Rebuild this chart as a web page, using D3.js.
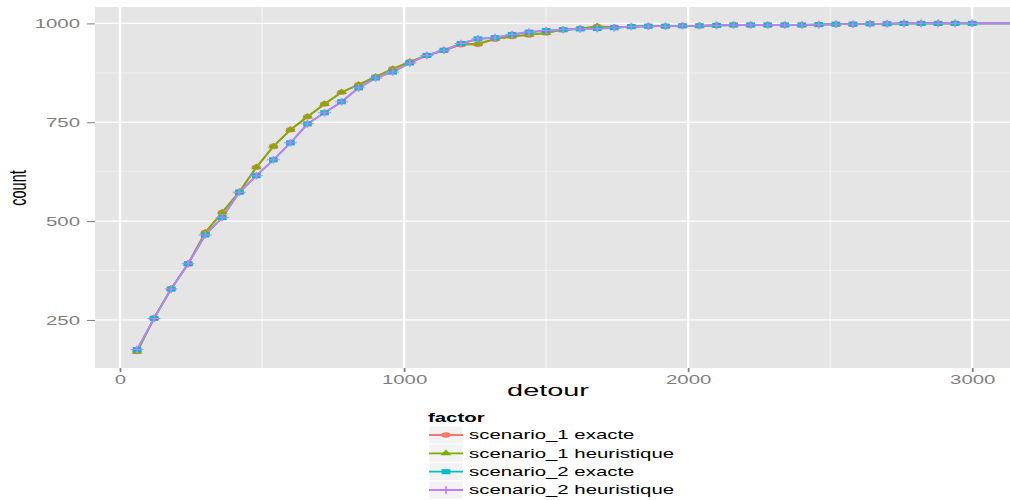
<!DOCTYPE html>
<html>
<head>
<meta charset="utf-8">
<script src="https://cdn.jsdelivr.net/npm/d3@7"></script>
<style>
  html, body { margin: 0; padding: 0; background: #fff; }
  svg { display: block; font-family: "Liberation Sans", Arial, sans-serif; }
</style>
</head>
<body>
<svg id="chart" width="1010" height="500"></svg>
<script>
// ---- data ----
const detour = [60,120,180,240,300,360,420,480,540,600,660,720,780,840,900,960,1020,1080,1140,1200,
  1260,1320,1380,1440,1500,1560,1620,1680,1740,1800,1860,1920,1980,2040,2100,2160,2220,2280,2340,2400,
  2460,2520,2580,2640,2700,2760,2820,2880,2940,3000,3180];

const s1Exacte = [170,255,329,392,471,522,574,636,689,731,764,796,826,845,865,885,903,919,932,946,
  947,960,967,971,976,984,987,992,990,992,993,993,994,994,995,996,996,996,996,996,
  997,998,998,999,999,1000,1000,1000,1000,1000,1000];
const s1Heuristique = [169,255,329,392,471,522,574,636,689,731,764,796,826,845,865,885,903,919,932,947,
  949,961,967,971,976,984,987,993,990,992,993,993,994,994,995,996,996,996,996,996,
  997,998,998,999,999,1000,1000,1000,1000,1000,1000];
const s2Exacte = [175,254,328,392,465,509,573,615,655,698,746,774,802,837,862,877,900,919,932,949,
  961,964,972,978,982,984,986,987,989,992,993,993,994,994,995,996,996,996,996,996,
  997,998,998,999,999,1000,1000,1000,1000,1000,1000];
const s2Heuristique = [175,254,328,392,465,509,573,615,655,698,746,774,802,837,862,877,900,919,932,949,
  961,964,972,978,982,984,986,987,989,992,993,993,994,994,995,996,996,996,996,996,
  997,998,998,999,999,1000,1000,1000,1000,1000,1000];

const seriesNames = ["scenario_1 exacte","scenario_1 heuristique","scenario_2 exacte","scenario_2 heuristique"];
const seriesColors = ["#F8766D","#7CAE00","#00BFC4","#C77CFF"];
const seriesShapes = ["circle","triangle","square","plus"];
const seriesValues = [s1Exacte, s1Heuristique, s2Exacte, s2Heuristique];

const xMajor = [0,1000,2000,3000];
const xMinor = [500,1500,2500];
const yMajor = [250,500,750,1000];
const yMinor = [375,625,875];

// ---- layout ----
const SX = 1.7; // horizontal stretch of the original raster
const panel = {left: 95, right: 1014, top: 7, bottom: 368};
const svg = d3.select("#chart");

const x = d3.scaleLinear().domain([-88, 3147]).range([panel.left, panel.right]);
const y = d3.scaleLinear().domain([128.5, 1041.5]).range([panel.bottom, panel.top]);

svg.append("defs").append("clipPath").attr("id","clip")
  .append("rect").attr("x",panel.left).attr("y",panel.top)
  .attr("width",panel.right-panel.left).attr("height",panel.bottom-panel.top);

svg.append("rect").attr("x",panel.left).attr("y",panel.top)
  .attr("width",panel.right-panel.left).attr("height",panel.bottom-panel.top)
  .attr("fill","#E5E5E5");

const grid = svg.append("g");
grid.selectAll(".ymin").data(yMinor).join("line")
  .attr("x1",panel.left).attr("x2",panel.right)
  .attr("y1",d=>y(d)).attr("y2",d=>y(d))
  .attr("stroke","#F2F2F2").attr("stroke-width",0.7);
grid.selectAll(".xmin").data(xMinor).join("line")
  .attr("y1",panel.top).attr("y2",panel.bottom)
  .attr("x1",d=>x(d)).attr("x2",d=>x(d))
  .attr("stroke","#F2F2F2").attr("stroke-width",1.3);
grid.selectAll(".ymaj").data(yMajor).join("line")
  .attr("x1",panel.left).attr("x2",panel.right)
  .attr("y1",d=>y(d)).attr("y2",d=>y(d))
  .attr("stroke","#FFFFFF").attr("stroke-width",1.3);
grid.selectAll(".xmaj").data(xMajor).join("line")
  .attr("y1",panel.top).attr("y2",panel.bottom)
  .attr("x1",d=>x(d)).attr("x2",d=>x(d))
  .attr("stroke","#FFFFFF").attr("stroke-width",2.4);

// axes
const fmt = d3.format("d");
const yAxis = svg.append("g").attr("transform",`translate(${panel.left},0)`)
  .call(d3.axisLeft(y).tickValues(yMajor).tickFormat(fmt).tickSizeInner(8).tickSizeOuter(0));
yAxis.select(".domain").remove();
yAxis.selectAll(".tick line").attr("stroke","#7F7F7F").attr("stroke-width",1);
yAxis.selectAll(".tick text")
  .attr("x",0).attr("dy",null).attr("y",4.3)
  .attr("transform",`translate(-15,0) scale(${SX},1)`)
  .attr("fill","#7F7F7F").attr("font-size",12);

const xAxis = svg.append("g").attr("transform",`translate(0,${panel.bottom})`)
  .call(d3.axisBottom(x).tickValues(xMajor).tickFormat(fmt).tickSizeInner(4).tickSizeOuter(0));
xAxis.select(".domain").remove();
xAxis.selectAll(".tick line").attr("stroke","#7F7F7F").attr("stroke-width",1.8);
xAxis.selectAll(".tick text")
  .attr("y",0).attr("dy",null)
  .attr("transform",`translate(0,15.5) scale(${SX},1)`)
  .attr("fill","#7F7F7F").attr("font-size",12);
svg.selectAll(".tick text").attr("font-family", "Liberation Sans, Arial, sans-serif");

// axis titles
svg.append("text").attr("transform",`translate(548,396) scale(${SX},1)`)
  .attr("text-anchor","middle").attr("font-size",17).attr("fill","#000").text("detour");
svg.append("text").attr("transform",`translate(25.5,188) scale(${SX},1) rotate(-90)`)
  .attr("text-anchor","middle").attr("font-size",14.5).attr("fill","#000").text("count");

// markers
function markerPath(shape) {
  if (shape === "circle") return d3.symbol(d3.symbolCircle, 24)();
  if (shape === "triangle") return d3.symbol(d3.symbolTriangle, 18)();
  if (shape === "square") return d3.symbol(d3.symbolSquare, 26)();
  return "M-3.8,0H3.8M0,-3.8V3.8";
}
function drawMarker(sel, shape, color) {
  sel.append("path").attr("d", markerPath(shape))
    .attr("fill", shape === "plus" ? "none" : color)
    .attr("stroke", shape === "plus" ? color : "none")
    .attr("stroke-width", shape === "plus" ? 1 : 0);
}

const plotArea = svg.append("g").attr("clip-path","url(#clip)");
const line = d3.line().x(d=>x(d[0])).y(d=>y(d[1]));
seriesValues.forEach((vals,i) => {
  const pts = detour.map((d,j)=>[d, vals[j]]);
  plotArea.append("path").datum(pts).attr("d",line)
    .attr("fill","none").attr("stroke",seriesColors[i]).attr("stroke-width",1.8);
});
seriesValues.forEach((vals,i) => {
  const pts = detour.map((d,j)=>[d, vals[j]]);
  plotArea.selectAll(null).data(pts).join("g")
    .attr("transform",d=>`translate(${x(d[0])},${y(d[1])}) scale(${SX},1)`)
    .each(function(){ drawMarker(d3.select(this), seriesShapes[i], seriesColors[i]); });
});

// legend
const legend = svg.append("g");
legend.append("text").attr("transform",`translate(428,422) scale(${SX},1)`)
  .attr("font-size",12).attr("font-weight","bold").attr("fill","#000").text("factor");
const rowY = [435, 453.3, 471.7, 490];
seriesNames.forEach((name,i) => {
  const cy = rowY[i];
  legend.append("rect").attr("x",429).attr("y",cy-9).attr("width",34).attr("height",18)
    .attr("fill","#F2F2F2").attr("stroke","#FFFFFF").attr("stroke-width",1);
  legend.append("line").attr("x1",429).attr("x2",463).attr("y1",cy).attr("y2",cy)
    .attr("stroke",seriesColors[i]).attr("stroke-width",1.8);
  const g = legend.append("g").attr("transform",`translate(446,${cy}) scale(${SX},1)`);
  drawMarker(g, seriesShapes[i], seriesColors[i]);
  legend.append("text").attr("transform",`translate(469,${cy+4.3}) scale(${SX},1)`)
    .attr("font-size",12).attr("fill","#000").text(name);
});
</script>
</body>
</html>
